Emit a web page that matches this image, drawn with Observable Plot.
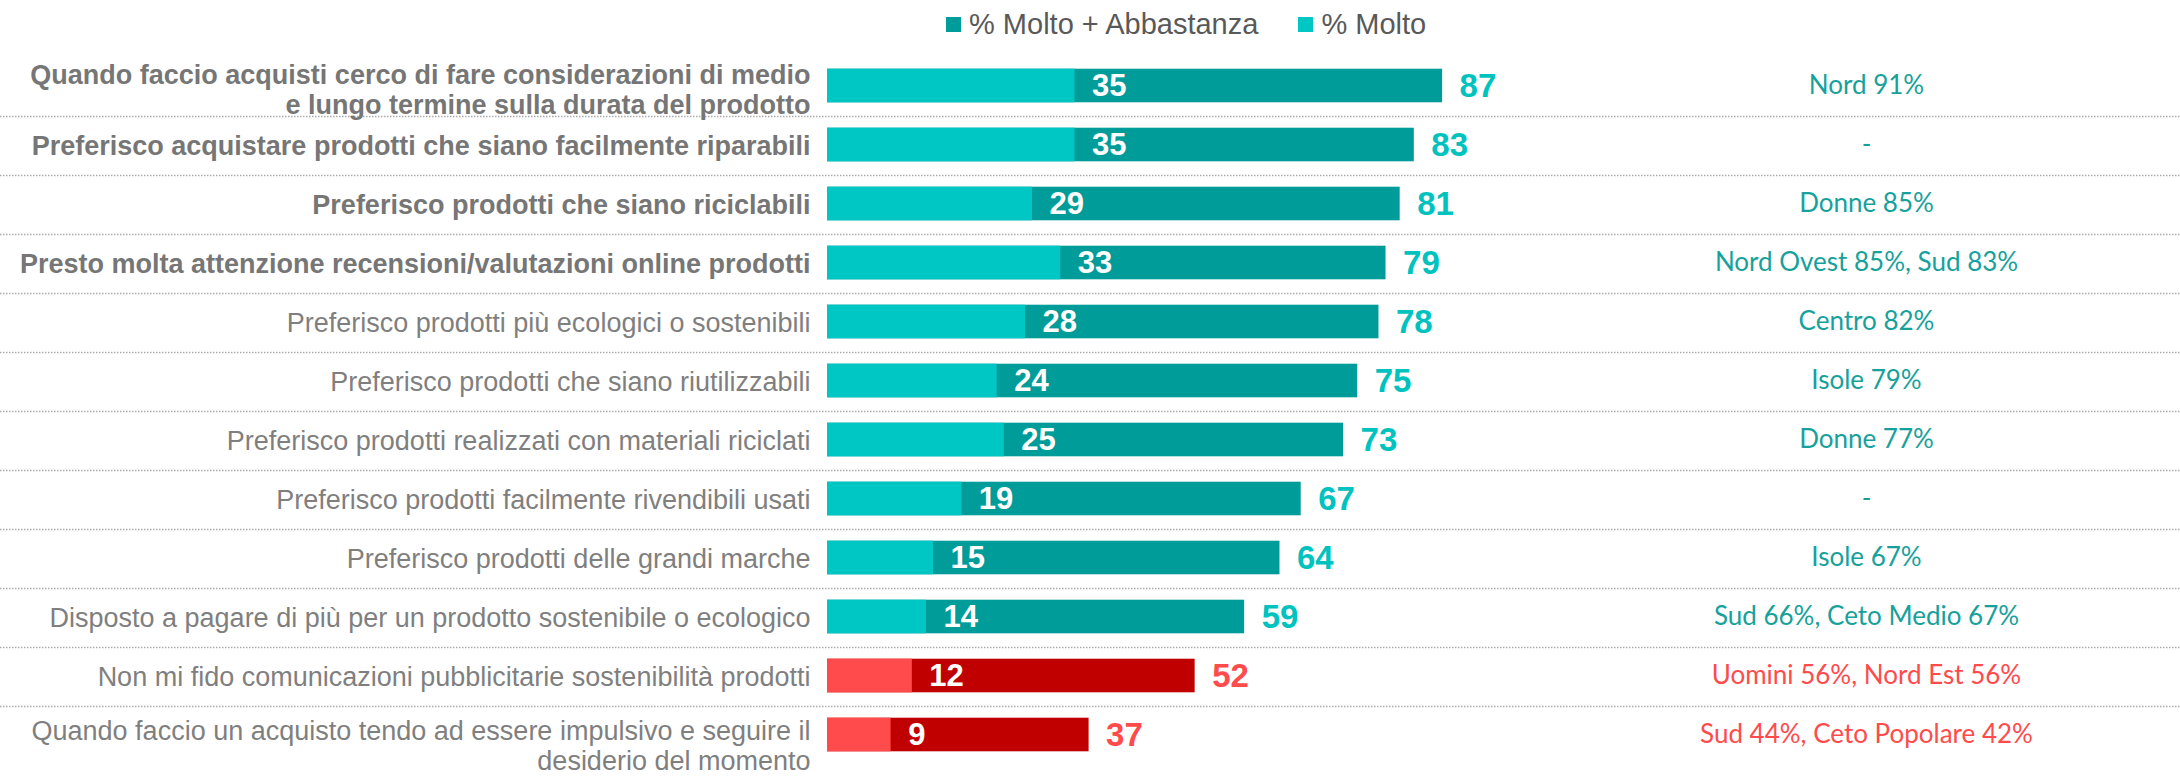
<!DOCTYPE html>
<html>
<head>
<meta charset="utf-8">
<script src="https://cdn.jsdelivr.net/npm/d3@7"></script>
<script src="https://cdn.jsdelivr.net/npm/@observablehq/plot@0.6"></script>
<style>
  html, body { margin: 0; padding: 0; background: #fff; }
  body { width: 2180px; height: 776px; overflow: hidden; font-family: "Liberation Sans", Arial, sans-serif; }
  #legend { height: 48px; display: flex; align-items: center; padding-left: 946px; box-sizing: border-box; color: #595959; font-size: 29px; }
  #legend .item { display: flex; align-items: center; margin-right: 40px; }
  #legend .sw { width: 15px; height: 15px; margin-right: 8px; }
  #chart svg { overflow: visible; }
</style>
</head>
<body>
<div id="legend"></div>
<div id="chart"></div>
<script>
const categories = [
  "Quando faccio acquisti cerco di fare considerazioni di medio\ne lungo termine sulla durata del prodotto",
  "Preferisco acquistare prodotti che siano facilmente riparabili",
  "Preferisco prodotti che siano riciclabili",
  "Presto molta attenzione recensioni/valutazioni online prodotti",
  "Preferisco prodotti più ecologici o sostenibili",
  "Preferisco prodotti che siano riutilizzabili",
  "Preferisco prodotti realizzati con materiali riciclati",
  "Preferisco prodotti facilmente rivendibili usati",
  "Preferisco prodotti delle grandi marche",
  "Disposto a pagare di più per un prodotto sostenibile o ecologico",
  "Non mi fido comunicazioni pubblicitarie sostenibilità prodotti",
  "Quando faccio un acquisto tendo ad essere impulsivo e seguire il\ndesiderio del momento"
];
const molto = [35, 35, 29, 33, 28, 24, 25, 19, 15, 14, 12, 9];
const moltoAbbastanza = [87, 83, 81, 79, 78, 75, 73, 67, 64, 59, 52, 37];
const highlights = [
  "Nord 91%", "-", "Donne 85%", "Nord Ovest 85%, Sud 83%", "Centro 82%", "Isole 79%",
  "Donne 77%", "-", "Isole 67%", "Sud 66%, Ceto Medio 67%", "Uomini 56%, Nord Est 56%",
  "Sud 44%, Ceto Popolare 42%"
];
const tone = ["pos","pos","pos","pos","pos","pos","pos","pos","pos","pos","neg","neg"];
const boldRows = [true, true, true, true, false, false, false, false, false, false, false, false];
const seriesNames = ["% Molto + Abbastanza", "% Molto"];

const palette = {
  pos: {dark: "#009C99", light: "#00C7C3", label: "#00C2BE", note: "#16A19C"},
  neg: {dark: "#C00000", light: "#FF4B4B", label: "#FF4B4B", note: "#FF4B4B"}
};

const rows = categories.map((c, i) => ({
  cat: c, molto: molto[i], total: moltoAbbastanza[i], note: highlights[i],
  tone: tone[i], bold: boldRows[i], idx: i
}));

// legend
const legend = document.getElementById("legend");
[[seriesNames[0], palette.pos.dark], [seriesNames[1], palette.pos.light]].forEach(([name, col]) => {
  const it = document.createElement("div");
  it.className = "item";
  it.innerHTML = `<span class="sw" style="background:${col}"></span><span>${name}</span>`;
  legend.appendChild(it);
});

const W = 2180, H = 728;
const inset = 12.7;
const fontLab = "Liberation Sans, Arial, sans-serif";
const labStyle = {x: d => 0, text: "cat", y: "cat", dx: -17, textAnchor: "end", fontSize: 27, lineHeight: 1.12};

const chart = Plot.plot({
  width: W,
  height: H,
  marginTop: 2.6,
  marginBottom: 7.3,
  marginLeft: 0,
  marginRight: 0,
  style: {fontFamily: fontLab, background: "white"},
  x: {domain: [0, 100], range: [827, 1534], axis: null},
  y: {domain: categories, padding: 0, axis: null},
  color: {type: "identity"},
  marks: [
    Plot.ruleY(rows.slice(0, -1), {
      y: "cat", dy: 30.5, stroke: "#ababab", strokeWidth: 1.5, strokeDasharray: "1.5,1.5"
    }),
    Plot.barX(rows, {y: "cat", x1: d => 0, x2: "total", fill: d => palette[d.tone].dark, insetTop: inset, insetBottom: inset}),
    Plot.barX(rows, {y: "cat", x1: d => 0, x2: "molto", fill: d => palette[d.tone].light, insetTop: inset, insetBottom: inset}),
    Plot.text(rows, {y: "cat", x: "molto", text: d => String(d.molto), dx: 17, textAnchor: "start",
      fill: "white", fontWeight: "bold", fontSize: 31}),
    Plot.text(rows, {y: "cat", x: "total", text: d => String(d.total), dx: 17, textAnchor: "start",
      fill: d => palette[d.tone].label, fontWeight: "bold", fontSize: 33}),
    Plot.text(rows.filter(d => d.idx === 0), {...labStyle, dy: 3, fill: "#767676", fontWeight: "bold"}),
    Plot.text(rows.filter(d => d.bold && d.idx > 0), {...labStyle, fill: "#767676", fontWeight: "bold"}),
    Plot.text(rows.filter(d => !d.bold && d.idx < 11), {...labStyle, fill: "#7f7f7f"}),
    Plot.text(rows.filter(d => d.idx === 11), {...labStyle, dy: 10, fill: "#7f7f7f"}),
    Plot.text(rows, {y: "cat", frameAnchor: "right", dx: -314, text: "note", textAnchor: "middle",
      fill: d => palette[d.tone].note, fontSize: 26, fontFamily: "Lato, 'Open Sans', sans-serif"})
  ]
});
document.getElementById("chart").appendChild(chart);
</script>
</body>
</html>
